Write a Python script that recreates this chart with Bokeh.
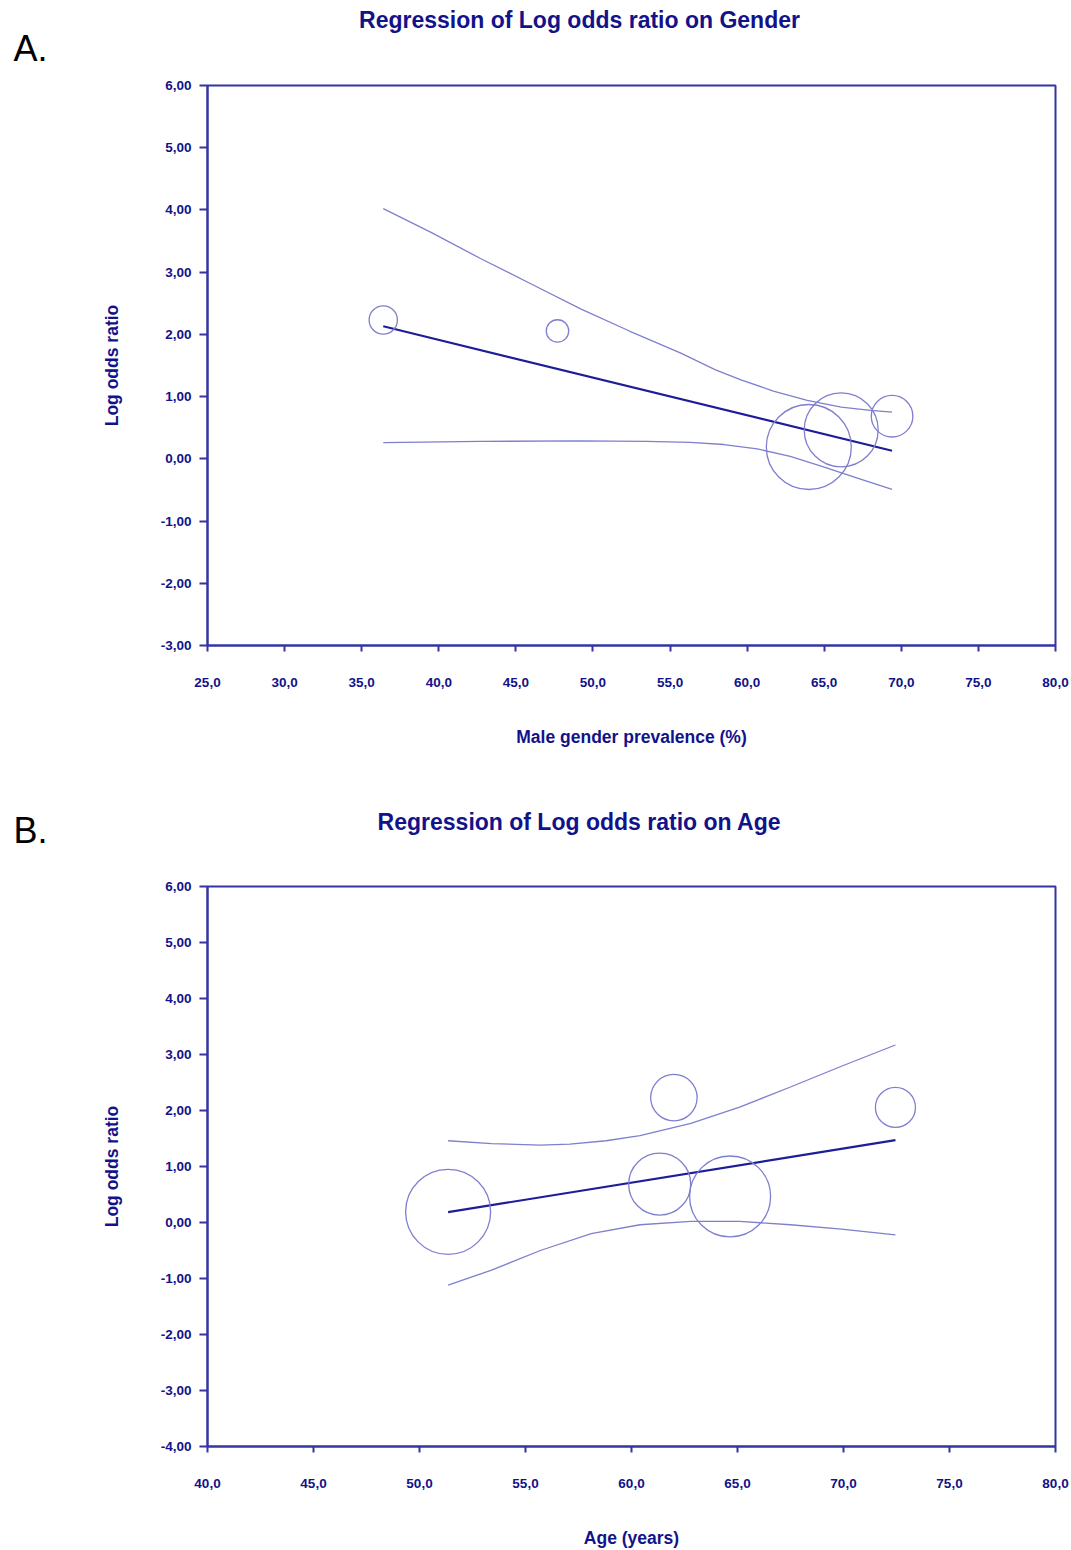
import numpy as np
from bokeh.plotting import figure
from bokeh.models import Range1d, FixedTicker
from bokeh.layouts import column
from bokeh.embed import file_html
from bokeh.resources import INLINE
from bokeh.core.properties import value

# ---------------- data ----------------
# five studies (same order in both panels)
log_odds_ratio = [2.23, 2.055, 0.19, 0.465, 0.685]

# Panel A: Gender
male_prevalence = [36.4, 47.7, 64.0, 66.1, 69.4]
weight_gender = [5.1, 3.2, 46.0, 34.8, 11.0]          # relative weights (%)
reg_gender_x = [36.4, 69.4]
reg_gender_y = [2.13, 0.13]
ci_up_gender_x = [36.4, 39.5, 42.7, 46.0, 49.2, 52.4, 55.7, 57.95, 59.6, 61.7, 63.9, 66.1, 68.0, 69.4]
ci_up_gender_y = [4.02, 3.64, 3.22, 2.81, 2.41, 2.05, 1.70, 1.43, 1.27, 1.09, 0.94, 0.83, 0.78, 0.75]
ci_lo_gender_x = [36.4, 42.7, 49.2, 53.5, 56.3, 58.5, 60.65, 62.8, 65.0, 67.1, 69.4]
ci_lo_gender_y = [0.26, 0.28, 0.29, 0.28, 0.265, 0.23, 0.16, 0.04, -0.135, -0.305, -0.49]

# Panel B: Age
age_years = [62.0, 72.45, 51.35, 64.65, 61.33]
weight_age = [10.1, 7.5, 33.8, 30.7, 18.0]            # relative weights (%)
reg_age_x = [51.35, 72.45]
reg_age_y = [0.185, 1.47]
ci_up_age_x = [51.35, 53.4, 55.7, 57.1, 58.8, 60.4, 62.8, 65.1, 67.5, 69.9, 72.45]
ci_up_age_y = [1.46, 1.41, 1.38, 1.40, 1.46, 1.55, 1.77, 2.06, 2.42, 2.79, 3.17]
ci_lo_age_x = [51.35, 53.4, 55.7, 58.1, 60.4, 62.8, 65.1, 67.5, 69.9, 72.45]
ci_lo_age_y = [-1.12, -0.85, -0.50, -0.20, -0.04, 0.02, 0.02, -0.04, -0.12, -0.22]

# ticks
x_ticks_gender = [25, 30, 35, 40, 45, 50, 55, 60, 65, 70, 75, 80]
x_labels_gender = ["25,0", "30,0", "35,0", "40,0", "45,0", "50,0", "55,0", "60,0", "65,0", "70,0", "75,0", "80,0"]
y_ticks_gender = [-3, -2, -1, 0, 1, 2, 3, 4, 5, 6]
y_labels_gender = ["-3,00", "-2,00", "-1,00", "0,00", "1,00", "2,00", "3,00", "4,00", "5,00", "6,00"]
x_ticks_age = [40, 45, 50, 55, 60, 65, 70, 75, 80]
x_labels_age = ["40,0", "45,0", "50,0", "55,0", "60,0", "65,0", "70,0", "75,0", "80,0"]
y_ticks_age = [-4, -3, -2, -1, 0, 1, 2, 3, 4, 5, 6]
y_labels_age = ["-4,00", "-3,00", "-2,00", "-1,00", "0,00", "1,00", "2,00", "3,00", "4,00", "5,00", "6,00"]

# ---------------- style ----------------
AXIS = "#3434a4"
TEXT = "#12128a"
LIGHT = "#7f7fcf"
DARK = "#1d1d99"
FONT = "Liberation Sans"
W = 1071
LEFT, RIGHT = 207, 16
MAX_D = 85.0


def header(title, letter, height, title_y, letter_y):
    # frame spans the same columns as the panel below; x range is in canvas pixels
    h = figure(width=W, height=height, x_range=Range1d(LEFT, W - RIGHT),
               y_range=Range1d(height, 0),
               output_backend="svg", toolbar_location=None,
               x_axis_location=None, y_axis_location="left",
               min_border_left=LEFT, min_border_right=RIGHT,
               min_border_top=0, min_border_bottom=0)
    h.title.visible = False
    h.grid.visible = False
    h.outline_line_color = None
    h.background_fill_color = "white"
    h.border_fill_color = "white"
    # panel letter shown as the single label of an otherwise invisible left axis
    ax = h.yaxis[0]
    ax.ticker = FixedTicker(ticks=[letter_y])
    ax.major_label_overrides = {letter_y: letter}
    ax.axis_line_color = None
    ax.major_tick_line_color = None
    ax.minor_tick_line_color = None
    ax.major_tick_out = 0
    ax.major_tick_in = 0
    ax.major_label_standoff = LEFT - 47
    ax.major_label_text_font = FONT
    ax.major_label_text_font_size = "36px"
    ax.major_label_text_color = "black"
    h.text(x=[579], y=[title_y], text=[title], text_align="center", text_baseline="middle",
           text_font=value(FONT), text_font_style="bold", text_font_size="23px",
           text_color=TEXT)
    return h


def panel(xlabel, xr, yr, xt, xl, yt, yl, px, py, wts,
          rx, ry, ux, uy, lx, ly, height, top, bottom):
    p = figure(width=W, height=height, x_range=Range1d(*xr), y_range=Range1d(*yr),
               output_backend="svg", toolbar_location=None,
               min_border_left=LEFT, min_border_right=RIGHT,
               min_border_top=top, min_border_bottom=bottom)
    p.title.visible = False
    p.background_fill_color = "white"
    p.border_fill_color = "white"
    p.outline_line_color = AXIS
    p.outline_line_width = 2
    p.outline_line_alpha = 1
    p.grid.visible = False

    for ax, ticks, labels, tick_out in ((p.xaxis[0], xt, xl, 6), (p.yaxis[0], yt, yl, 8)):
        ax.ticker = FixedTicker(ticks=ticks)
        ax.major_label_overrides = {t: s for t, s in zip(ticks, labels)}
        ax.minor_tick_line_color = None
        ax.major_tick_in = 0
        ax.major_tick_out = tick_out
        ax.major_tick_line_width = 2
        ax.major_tick_line_color = AXIS
        ax.axis_line_color = AXIS
        ax.axis_line_width = 2
        ax.major_label_text_font = FONT
        ax.major_label_text_font_style = "bold"
        ax.major_label_text_font_size = "13.5px"
        ax.major_label_text_color = TEXT
        ax.axis_label_text_font = FONT
        ax.axis_label_text_font_style = "bold"
        ax.axis_label_text_font_size = "17.5px"
        ax.axis_label_text_color = TEXT
    p.xaxis.axis_label = xlabel
    p.yaxis.axis_label = "Log odds ratio"
    p.xaxis.major_label_standoff = 26
    p.xaxis.axis_label_standoff = 37
    p.yaxis.major_label_standoff = 8
    p.yaxis.axis_label_standoff = 36

    p.line(ux, uy, line_color=LIGHT, line_width=1.3)
    p.line(lx, ly, line_color=LIGHT, line_width=1.3)
    p.line(rx, ry, line_color=DARK, line_width=2.2)
    wmax = max(wts)
    sizes = [MAX_D * np.sqrt(w / wmax) for w in wts]
    p.scatter(px, py, size=sizes, marker="circle", fill_color=None,
              line_color=LIGHT, line_width=1.3)
    return p


ha = header("Regression of Log odds ratio on Gender", "A.", 75, 19, 48)
pa = panel("Male gender prevalence (%)",
           (25, 80), (-3, 6), x_ticks_gender, x_labels_gender, y_ticks_gender, y_labels_gender,
           male_prevalence, log_odds_ratio, weight_gender,
           reg_gender_x, reg_gender_y, ci_up_gender_x, ci_up_gender_y, ci_lo_gender_x, ci_lo_gender_y,
           700, 10, 130)

hb = header("Regression of Log odds ratio on Age", "B.", 101, 46, 55)
pb = panel("Age (years)",
           (40, 80), (-4, 6), x_ticks_age, x_labels_age, y_ticks_age, y_labels_age,
           age_years, log_odds_ratio, weight_age,
           reg_age_x, reg_age_y, ci_up_age_x, ci_up_age_y, ci_lo_age_x, ci_lo_age_y,
           674, 10, 103)

layout = column(ha, pa, hb, pb, spacing=0)
open("out.html", "w").write(file_html(layout, INLINE))
